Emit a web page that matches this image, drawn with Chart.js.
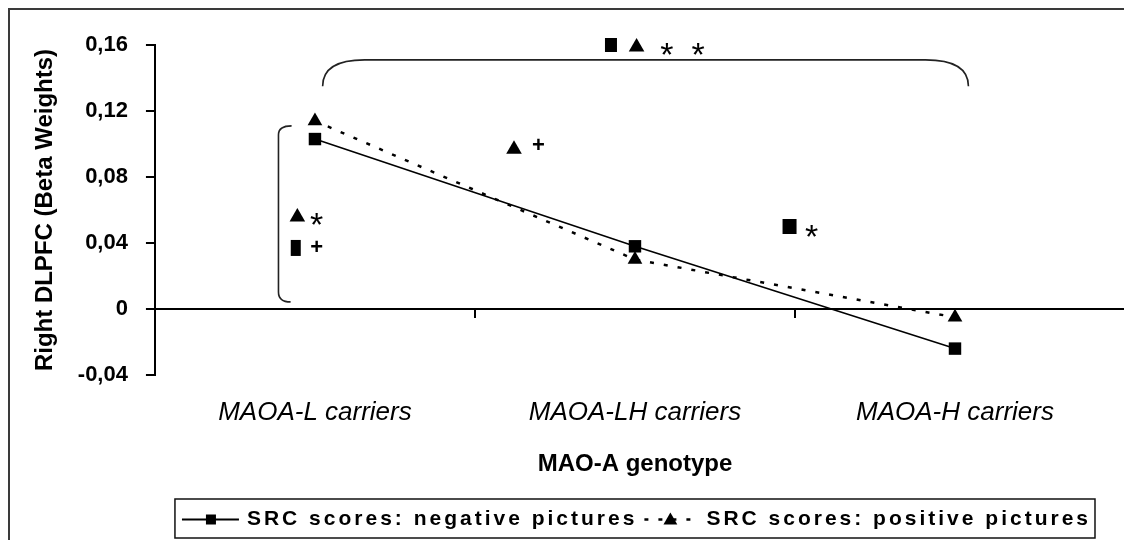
<!DOCTYPE html>
<html>
<head>
<meta charset="utf-8">
<title>Right DLPFC by MAO-A genotype</title>
<script src="https://cdn.jsdelivr.net/npm/chart.js@4.4.1/dist/chart.umd.min.js"></script>
<style>
  html, body { margin: 0; padding: 0; background: #fff; }
  #wrap { width: 1124px; height: 540px; }
</style>
</head>
<body>
<div id="wrap"><canvas id="chart" width="1124" height="540"></canvas></div>
<script>
// valori
var genotipi = ['MAOA-L carriers', 'MAOA-LH carriers', 'MAOA-H carriers'];
var scoreNegativi = [0.103, 0.038, -0.024];
var scorePositivi = [0.114, 0.030, -0.005];
var tickY = [-0.04, 0, 0.04, 0.08, 0.12, 0.16];

// simboli di significativita' (x = posizione di categoria, y = beta)
var segni = [
  { x: 0.925, y: 0.160, s: 'rect' },
  { x: 1.005, y: 0.160, s: 'triangle' },
  { x: 1.100, y: 0.1585, s: '*' },
  { x: 1.197, y: 0.1585, s: '*' },
  { x: -0.055, y: 0.057, s: 'triangle' },
  { x: 0.005, y: 0.056, s: '*' },
  { x: -0.060, y: 0.037, s: 'bar' },
  { x: 0.005, y: 0.038, s: '+' },
  { x: 0.622, y: 0.098, s: 'triangle' },
  { x: 0.698, y: 0.100, s: '+' },
  { x: 1.483, y: 0.050, s: 'bigrect' },
  { x: 1.552, y: 0.0485, s: '*' }
];

// parentesi: quella in alto unisce i tre gruppi, quella a sinistra i due punteggi L
var parentesiAlta = { da: 0.024, a: 2.042, livello: 0.151, piede: 0.135 };
var parentesiSx = { x: -0.114, punta: -0.073, alto: 0.111, basso: 0.0043 };

var FONT = '"Liberation Sans", Arial, Helvetica, sans-serif';

function formatta(v) {
  if (Math.abs(v) < 1e-9) return '0';
  return v.toFixed(2).replace('.', ',');
}

function quadrato(ctx, x, y, w, h) {
  ctx.fillRect(x - w / 2, y - h / 2, w, h);
}

function triangolo(ctx, x, y, r) {
  ctx.beginPath();
  ctx.moveTo(x, y - r);
  ctx.lineTo(x + r * 0.866, y + r / 2);
  ctx.lineTo(x - r * 0.866, y + r / 2);
  ctx.closePath();
  ctx.fill();
}

var extra = {
  id: 'extra',
  beforeDraw: function(chart) {
    var ctx = chart.ctx;
    ctx.save();
    ctx.fillStyle = '#fff';
    ctx.fillRect(0, 0, chart.width, chart.height);
    ctx.strokeStyle = '#3a3a3a';
    ctx.lineWidth = 2;
    ctx.strokeRect(9, 9, chart.width + 20, chart.height + 20);
    ctx.restore();
  },
  beforeDatasetsDraw: function(chart) {
    var ctx = chart.ctx;
    var x = chart.scales.x, y = chart.scales.y;
    var y0 = y.getPixelForValue(0);
    ctx.save();
    ctx.strokeStyle = '#000';
    ctx.lineWidth = 2;
    // l'asse dello zero prosegue fino al bordo
    ctx.beginPath();
    ctx.moveTo(chart.chartArea.right - 1, y0);
    ctx.lineTo(chart.width, y0);
    ctx.stroke();
    // tacche tra le categorie sull'asse dello zero
    [0.5, 1.5].forEach(function(v) {
      var px = Math.round(x.getPixelForValue(v));
      ctx.beginPath();
      ctx.moveTo(px, y0);
      ctx.lineTo(px, y0 + 9);
      ctx.stroke();
    });

    ctx.strokeStyle = '#222';
    ctx.lineWidth = 1.6;
    // parentesi in alto
    var p = parentesiAlta;
    var xa = x.getPixelForValue(p.da), xb = x.getPixelForValue(p.a);
    var yl = y.getPixelForValue(p.livello), yp = y.getPixelForValue(p.piede);
    ctx.beginPath();
    ctx.moveTo(xa, yp);
    ctx.quadraticCurveTo(xa, yl, xa + 42, yl);
    ctx.lineTo(xb - 43, yl);
    ctx.quadraticCurveTo(xb, yl, xb, yp);
    ctx.stroke();
    // parentesi a sinistra
    var q = parentesiSx;
    var xv = x.getPixelForValue(q.x), xp = x.getPixelForValue(q.punta);
    var ya = y.getPixelForValue(q.alto), yb = y.getPixelForValue(q.basso);
    ctx.beginPath();
    ctx.moveTo(xp, ya);
    ctx.quadraticCurveTo(xv, ya, xv, ya + 9);
    ctx.lineTo(xv, yb - 10);
    ctx.quadraticCurveTo(xv, yb, xp - 1, yb);
    ctx.stroke();
    ctx.restore();
  },
  afterDatasetsDraw: function(chart) {
    var ctx = chart.ctx;
    var x = chart.scales.x, y = chart.scales.y;
    ctx.save();
    ctx.fillStyle = '#000';
    segni.forEach(function(m) {
      var px = x.getPixelForValue(m.x), py = y.getPixelForValue(m.y);
      if (m.s === 'rect') quadrato(ctx, px, py, 12, 14);
      else if (m.s === 'bigrect') quadrato(ctx, px, py, 14, 15);
      else if (m.s === 'bar') quadrato(ctx, px, py, 10, 16);
      else if (m.s === 'triangle') triangolo(ctx, px, py + 2, 9);
      else if (m.s === '*') {
        ctx.font = '34px ' + FONT;
        ctx.textAlign = 'center';
        ctx.textBaseline = 'alphabetic';
        ctx.fillText('*', px, py + 19);
      } else if (m.s === '+') {
        ctx.font = 'bold 22px ' + FONT;
        ctx.textAlign = 'center';
        ctx.textBaseline = 'alphabetic';
        ctx.fillText('+', px, py + 8);
      }
    });
    ctx.restore();
  },
  afterDraw: function(chart) {
    // legenda in un riquadro sotto al titolo dell'asse x
    var ctx = chart.ctx;
    var area = chart.chartArea;
    var ds = chart.data.datasets;
    ctx.save();
    ctx.font = 'bold 21px ' + FONT;
    ctx.letterSpacing = '3px';
    var w1 = ctx.measureText(ds[0].label).width;
    var w2 = ctx.measureText(ds[1].label).width;
    var larg = 7 + 57 + 8 + w1 + 7 + 51 + 11 + w2 + 4;
    var sx = (area.left + area.right) / 2 - larg / 2;
    var top = chart.height - 41;
    var h = 39;
    var cy = top + h / 2 + 1;
    ctx.fillStyle = '#fff';
    ctx.fillRect(sx, top, larg, h);
    ctx.strokeStyle = '#111';
    ctx.lineWidth = 1.5;
    ctx.strokeRect(sx, top, larg, h);

    var cx = sx + 7;
    ctx.strokeStyle = '#000';
    ctx.fillStyle = '#000';
    ctx.lineWidth = 2;
    ctx.beginPath();
    ctx.moveTo(cx, cy);
    ctx.lineTo(cx + 57, cy);
    ctx.stroke();
    quadrato(ctx, cx + 29, cy, 10, 10);
    cx += 57 + 8;
    ctx.textAlign = 'left';
    ctx.textBaseline = 'middle';
    ctx.fillText(ds[0].label, cx, cy);
    cx += w1 + 7;
    ctx.setLineDash(ds[1].borderDash);
    ctx.lineWidth = 2.5;
    ctx.beginPath();
    ctx.moveTo(cx, cy);
    ctx.lineTo(cx + 51, cy);
    ctx.stroke();
    ctx.setLineDash([]);
    triangolo(ctx, cx + 26, cy + 1, 8);
    cx += 51 + 11;
    ctx.fillText(ds[1].label, cx, cy);
    ctx.letterSpacing = '0px';
    ctx.restore();
  }
};

var ctx = document.getElementById('chart');
var chart = new Chart(ctx, {
  type: 'line',
  data: {
    labels: genotipi,
    datasets: [{
      label: 'SRC scores: negative pictures',
      data: scoreNegativi,
      borderColor: '#000',
      backgroundColor: '#000',
      borderWidth: 1.6,
      pointStyle: 'rect',
      pointRadius: 8.8,
      pointBorderWidth: 0,
      tension: 0,
      clip: false
    }, {
      label: 'SRC scores: positive pictures',
      data: scorePositivi,
      borderColor: '#000',
      backgroundColor: '#000',
      borderWidth: 2.5,
      borderDash: [4, 10],
      pointStyle: 'triangle',
      pointRadius: 8.5,
      pointBorderWidth: 0,
      tension: 0,
      clip: false
    }]
  },
  options: {
    responsive: false,
    animation: false,
    layout: { padding: { left: 17, right: 9, top: 45, bottom: 50 } },
    plugins: {
      legend: { display: false },
      tooltip: { enabled: false }
    },
    scales: {
      x: {
        offset: true,
        grid: { display: false, drawTicks: false },
        border: { display: false },
        ticks: {
          color: '#000',
          padding: 22,
          maxRotation: 0,
          autoSkip: false,
          font: { family: FONT, size: 26, style: 'italic' }
        },
        title: {
          display: true,
          text: 'MAO-A genotype',
          color: '#000',
          padding: { top: 0, bottom: 11 },
          font: { family: FONT, size: 24, weight: 'bold' }
        }
      },
      y: {
        min: -0.04,
        max: 0.16,
        afterBuildTicks: function(s) {
          s.ticks = tickY.map(function(v) { return { value: v }; });
        },
        border: { color: '#000', width: 2 },
        grid: {
          color: function(c) {
            return c.tick && Math.abs(c.tick.value) < 1e-9 ? '#000' : 'rgba(0,0,0,0)';
          },
          lineWidth: 2,
          tickColor: '#000',
          tickLength: 9
        },
        ticks: {
          color: '#000',
          padding: 18,
          font: { family: FONT, size: 22, weight: 'bold' },
          callback: function(v) { return formatta(v); }
        },
        title: {
          display: true,
          text: 'Right DLPFC (Beta Weights)',
          color: '#000',
          padding: { top: 14, bottom: 0 },
          font: { family: FONT, size: 24, weight: 'bold' }
        }
      }
    }
  },
  plugins: [extra]
});
</script>
</body>
</html>
